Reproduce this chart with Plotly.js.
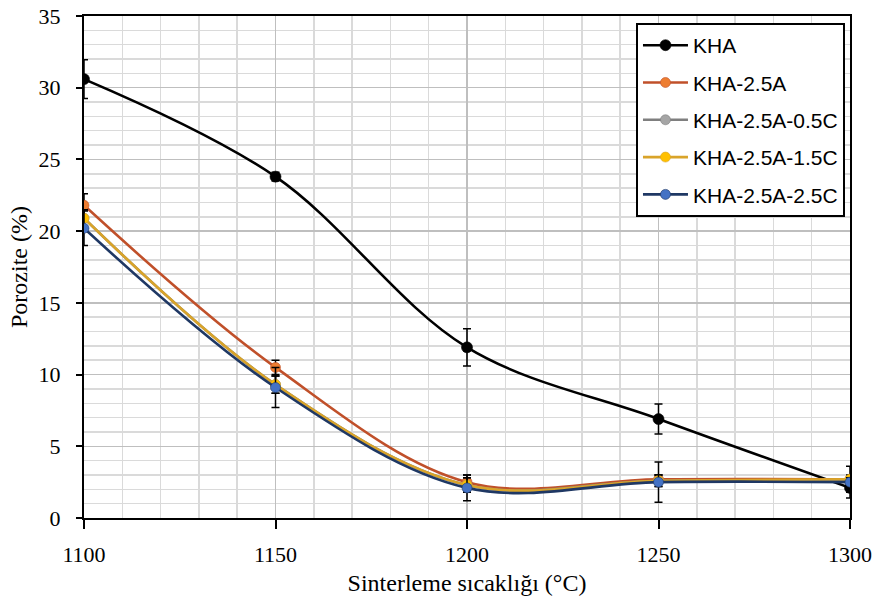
<!DOCTYPE html>
<html>
<head>
<meta charset="utf-8">
<script src="https://cdn.plot.ly/plotly-3.0.1.min.js"></script>
<style>html,body{margin:0;padding:0;background:#fff;}#chart{width:885px;height:610px;}</style>
</head>
<body>
<div id="chart"></div>
<script>
const temps = [1100, 1150, 1200, 1250, 1300];
const seriesNames = ["KHA", "KHA-2.5A", "KHA-2.5A-0.5C", "KHA-2.5A-1.5C", "KHA-2.5A-2.5C"];
const khaVals = [30.6, 23.8, 11.9, 6.9, 2.1];
const kha25aVals = [21.8, 10.5, 2.5, 2.7, 2.7];
const kha05cVals = [20.9, 9.3, 2.3, 2.6, 2.6];
const kha15cVals = [20.9, 9.3, 2.3, 2.6, 2.7];
const kha25cVals = [20.2, 9.1, 2.1, 2.5, 2.5];
const khaErr = [1.35, 0.3, 1.3, 1.05, 0.7];
const kha25aErr = [0.8, 0.5, 0.5, 0.3, 0.9];
const kha05cErr = [0.6, 0.6, 0.5, 0.4, 0.3];
const kha15cErr = [0.6, 0.6, 0.5, 0.4, 0.3];
const kha25cErr = [1.2, 1.4, 0.9, 1.4, 0.3];

const values = [khaVals, kha25aVals, kha05cVals, kha15cVals, kha25cVals];
const errs = [khaErr, kha25aErr, kha05cErr, kha15cErr, kha25cErr];
const lineColors = ["#000000", "#C0502A", "#7F7F7F", "#D9A42A", "#1F3864"];
const markerColors = ["#000000", "#ED7D31", "#A5A5A5", "#FFC000", "#4472C4"];
const markerSizes = [11, 10, 10, 10, 10];

const serif = "Liberation Serif, Times New Roman, serif";

const traces = seriesNames.map((name, i) => ({
  type: "scatter",
  mode: "lines+markers",
  name: name,
  legendgroup: "g" + i,
  x: temps,
  y: values[i],
  line: {color: lineColors[i], width: 2.6, shape: "spline", smoothing: 1},
  marker: {color: markerColors[i], size: markerSizes[i], line: {color: lineColors[i], width: 0.6}},
  error_y: {type: "data", array: errs[i], visible: true, color: "#000000", thickness: 1.5, width: 4}
}));

const layout = {
  width: 885, height: 610,
  margin: {l: 84, r: 35, t: 16, b: 92},
  paper_bgcolor: "#ffffff",
  plot_bgcolor: "#ffffff",
  showlegend: true,
  legend: {
    x: 0.7206, y: 0.986, xanchor: "left", yanchor: "top",
    bgcolor: "#ffffff", bordercolor: "#000000", borderwidth: 2,
    font: {family: "Liberation Sans, Arial, sans-serif", size: 21, color: "#000000"},
    tracegroupgap: 7, itemwidth: 45
  },
  xaxis: {
    range: [1100, 1300], dtick: 50, tick0: 1100,
    showline: true, linecolor: "#000000", linewidth: 2, mirror: true,
    ticks: "outside", ticklen: 9, tickwidth: 2, tickcolor: "#000000",
    showgrid: true, gridcolor: "#BFBFBF", gridwidth: 1.5,
    minor: {dtick: 10, showgrid: true, gridcolor: "#DADADA", gridwidth: 1.5},
    zeroline: false,
    ticklabelstandoff: 7,
    tickfont: {family: serif, size: 22, color: "#000000"},
    title: {text: "Sinterleme sıcaklığı (°C)", standoff: 8, font: {family: serif, size: 24, color: "#000000"}}
  },
  yaxis: {
    range: [0, 35], dtick: 5,
    showline: true, linecolor: "#000000", linewidth: 2, mirror: true,
    ticks: "outside", ticklen: 6, tickwidth: 2, tickcolor: "#000000",
    showgrid: true, gridcolor: "#BFBFBF", gridwidth: 1.5,
    minor: {dtick: 1, showgrid: true, gridcolor: "#DADADA", gridwidth: 1.5},
    zeroline: false,
    ticklabelstandoff: 11,
    tickfont: {family: serif, size: 22, color: "#000000"},
    title: {text: "Porozite (%)", standoff: 4, font: {family: serif, size: 24, color: "#000000"}}
  }
};

Plotly.newPlot("chart", traces, layout, {displayModeBar: false, staticPlot: true});
</script>
</body>
</html>
